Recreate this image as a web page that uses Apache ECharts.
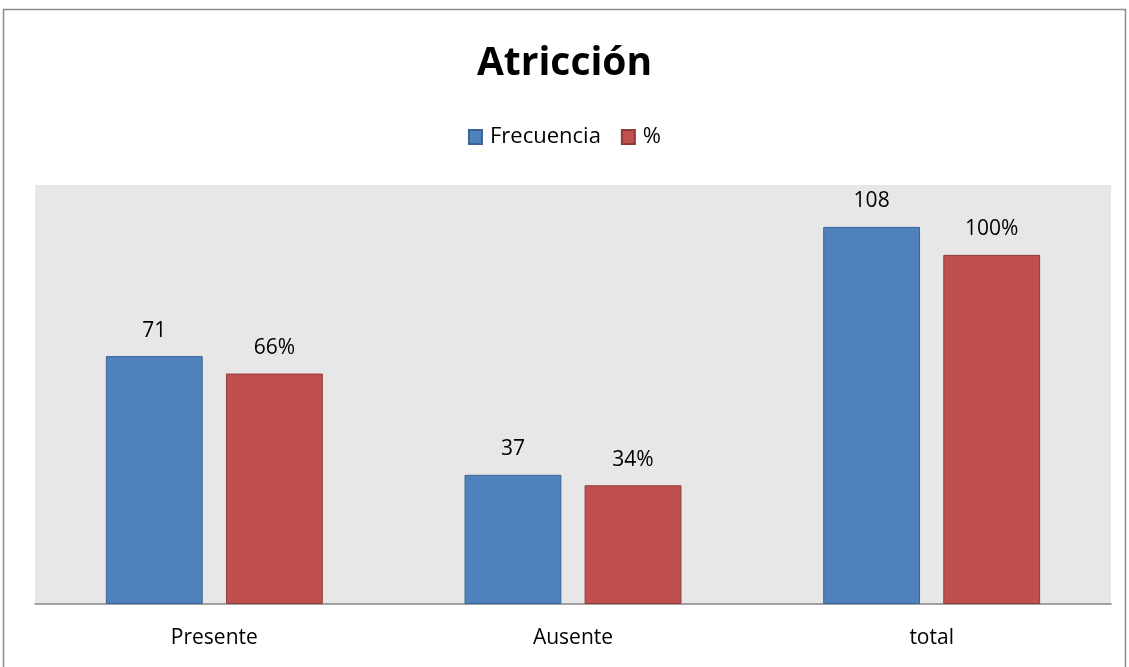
<!DOCTYPE html>
<html><head><meta charset="utf-8">
<script src="https://cdn.jsdelivr.net/npm/echarts@6/dist/echarts.min.js"></script>
<style>html,body{margin:0;padding:0;background:#fff}#c{width:1129px;height:667px}</style>
</head><body><div id="c"></div>
<script>
const categories = ['Presente', 'Ausente', 'total'];
const frecuencia = [71, 37, 108];
const porcentaje = [66, 34, 100];
const seriesNames = ['Frecuencia', '%'];

const chart = echarts.init(document.getElementById('c'));
const font = 'Open Sans, Liberation Sans, sans-serif';
chart.setOption({
  animation: false,
  backgroundColor: '#fff',
  title: {
    text: 'Atricción', left: 'center', top: 39,
    textStyle: {fontFamily: font, fontWeight: 'bold', fontSize: 39, color: '#000'}
  },
  legend: {
    top: 121, left: 'center', icon: 'rect', itemWidth: 13, itemHeight: 14, itemGap: 20,
    textStyle: {fontFamily: font, fontSize: 22, color: '#000', padding: [0, 0, 0, 3]},
    data: seriesNames
  },
  graphic: [{
    type: 'rect', silent: true, z: -1,
    shape: {x: 3.5, y: 9.5, width: 1122, height: 700},
    style: {fill: 'none', stroke: '#8a8a8a', lineWidth: 1.5}
  }],
  grid: {left: 35, right: 18, top: 185, bottom: 63, backgroundColor: '#e7e7e7', show: true, borderWidth: 0},
  xAxis: {
    type: 'category', data: categories,
    axisLine: {lineStyle: {color: '#868686', width: 1.5}},
    axisTick: {show: false},
    axisLabel: {fontFamily: font, fontSize: 21, color: '#000', margin: 24}
  },
  yAxis: {type: 'value', min: 0, max: 120, show: false, splitLine: {show: false}},
  series: [
    {
      name: seriesNames[0], type: 'bar', data: frecuencia, barWidth: '27%', barGap: '24%',
      itemStyle: {color: '#4f81bd', borderColor: '#3a6494', borderWidth: 1},
      label: {show: true, position: 'top', distance: 15, fontFamily: font, fontSize: 21, color: '#000'}
    },
    {
      name: seriesNames[1], type: 'bar', data: porcentaje, barWidth: '27%',
      itemStyle: {color: '#c0504d', borderColor: '#8e3a38', borderWidth: 1},
      label: {show: true, position: 'top', distance: 15, fontFamily: font, fontSize: 21, color: '#000', formatter: p => p.value + '%'}
    }
  ]
});
</script></body></html>
